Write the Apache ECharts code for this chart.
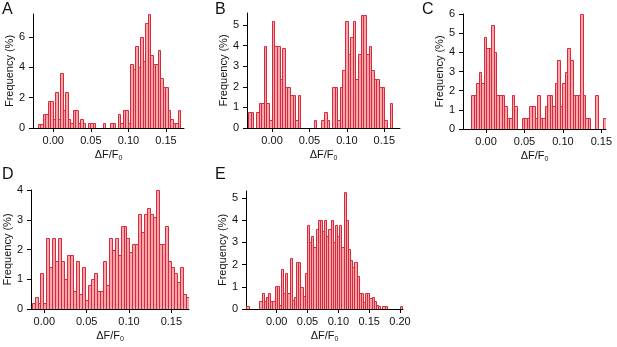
<!DOCTYPE html>
<html>
<head>
<meta charset="utf-8">
<script src="https://cdn.jsdelivr.net/npm/echarts@6/dist/echarts.min.js"></script>
<style>
html,body{margin:0;padding:0;background:#fff}
#chart{width:617px;height:347px}
</style>
</head>
<body>
<div id="chart"></div>
<script>
// histogram bin heights (%), left to right, one array per panel
var heightsA = [0.25,0.25,0.9,0.9,1.8,1.8,0.6,2.4,0.6,3.6, 1.2,2.4,0.6,0.3,1.2,1.2,0.3,0.6,0.3,0,
  0.3,0.3,0.3,0,0,0,0.3,0,0,0.3, 0.3,0,0.9,0.3,1.2,1.2,0.3,4.2,3.9,5.4,
  4.0,6.0,4.4,6.9,7.5,4.8,4.2,4.2,5.1,3.3, 2.7,2.7,1.2,0.6,0.3,0.3,1.2];
var heightsB = [0.8,0.8,0,0.8,1.2,1.2,4.0,1.2,0.4,5.2, 4.0,4.0,2.4,3.9,2.0,2.0,1.6,1.6,0.4,1.6,
  0,0,0,0,0,0.4,0,0,0.4,0.8, 0.4,0,2.0,2.0,0.4,2.0,2.8,5.2,3.6,4.4,
  5.2,2.4,3.6,5.5,5.5,3.6,4.0,2.8,2.4,2.4, 2.0,2.0,0.4,0,1.2];
var heightsC = [1.8,1.8,2.4,3.0,2.4,4.8,4.2,4.2,5.4,4.0, 1.8,1.8,1.8,1.2,0.6,0.6,1.8,1.2,0,0,
  0.6,0.6,0.6,1.2,1.2,0.6,1.8,0.6,0.6,1.2, 1.8,1.8,1.2,2.4,3.6,1.2,2.4,3.0,4.2,3.6,
  1.8,1.8,1.8,6.0,1.8,0.6,0.6,0,0,1.8, 0,0,0.6];
var heightsD = [0.2,0.4,0.2,1.2,0.2,2.4,1.4,2.4,1.6,2.4, 1.6,1.0,1.8,1.8,0.6,1.6,0.5,1.4,0.3,0.8,
  1.0,1.2,0.6,0.6,1.6,0.8,2.4,2.0,2.4,1.8, 2.8,2.8,2.4,1.9,2.2,2.2,3.2,2.6,3.2,3.4,
  3.2,3.1,4.0,2.2,2.2,2.8,1.6,1.4,1.2,0.9, 1.4,0.5,0.4];
var heightsE = [0.15,0,0,0,0,0,0.35,0.7,0.35,0.55, 0.7,0.35,0.35,1.05,1.05,0.2,1.8,0.7,1.6,0.7,
  2.3,0.4,0.55,2.1,2.1,1.0,0.6,1.6,3.8,3.0, 3.3,2.8,3.6,4.0,4.0,3.5,4.0,3.3,3.6,4.0,
  3.0,3.8,3.3,3.8,2.8,5.25,4.0,2.7,2.2,1.9, 2.1,1.5,0.7,0.7,0.3,0.7,0.7,0.5,0.55,0.35,
  0.2,0.15,0,0.15,0.15,0,0,0,0,0, 0,0.15];

// first bin edge and bin width (ΔF/F0)
var binStart = [-0.0205, -0.032, -0.0195, -0.015, -0.049];
var binWidth = [0.00333, 0.0035, 0.0033, 0.0035, 0.0035];

var xTicks = [0, 0.05, 0.10, 0.15];
var xTicksE = [0, 0.05, 0.10, 0.15, 0.20];
var yTicksA = [0, 2, 4, 6];
var yTicksB = [0, 1, 2, 3, 4, 5];
var yTicksC = [0, 1, 2, 3, 4, 5, 6];
var yTicksD = [0, 1, 2, 3, 4];
var yTicksE = [0, 1, 2, 3, 4, 5];
var letters = ['A', 'B', 'C', 'D', 'E'];

var panels = [
  {h: heightsA, grid: {left: 33, top: 14, width: 151, height: 114}, x: [-0.027, 0.174], yMax: 7.5, xt: xTicks, yt: yTicksA, lp: [2, 2]},
  {h: heightsB, grid: {left: 247, top: 13, width: 153, height: 115}, x: [-0.0335, 0.171], yMax: 5.58, xt: xTicks, yt: yTicksB, lp: [215, 2]},
  {h: heightsC, grid: {left: 463, top: 14, width: 143, height: 115}, x: [-0.030, 0.156], yMax: 6, xt: xTicks, yt: yTicksC, lp: [422, 2]},
  {h: heightsD, grid: {left: 31, top: 190, width: 158, height: 119}, x: [-0.0157, 0.1708], yMax: 4, xt: xTicks, yt: yTicksD, lp: [2, 167]},
  {h: heightsE, grid: {left: 246, top: 191, width: 157, height: 118}, x: [-0.0498, 0.2049], yMax: 5.31, xt: xTicksE, yt: yTicksE, lp: [215, 167]}
];

var FONT = 'Liberation Sans, Arial, sans-serif';
var FILL = '#f6a6ac', EDGE = '#d92a3a';

function renderBin(params, api) {
  var h = api.value(2);
  if (!h) return null;
  var p0 = api.coord([api.value(0), h]);
  var p1 = api.coord([api.value(1), 0]);
  var x0 = Math.round(p0[0]) + 0.5, x1 = Math.round(p1[0]) + 0.5;
  var y0 = Math.round(p0[1]) + 0.5, y1 = Math.round(p1[1]) + 0.5;
  return {
    type: 'rect',
    shape: {x: x0, y: y0, width: x1 - x0, height: y1 - y0},
    style: {fill: FILL, stroke: EDGE, lineWidth: 1}
  };
}

var option = {
  animation: false,
  backgroundColor: '#fff',
  title: [], grid: [], xAxis: [], yAxis: [], series: []
};

panels.forEach(function (p, i) {
  var data = p.h.map(function (v, k) {
    var a = binStart[i] + k * binWidth[i];
    return [a, a + binWidth[i], v];
  });
  option.title.push({
    text: letters[i], left: p.lp[0], top: p.lp[1], padding: 0,
    textStyle: {fontFamily: FONT, fontSize: 16, fontWeight: 'normal', color: '#111'}
  });
  option.grid.push(Object.assign({containLabel: false}, p.grid));
  option.xAxis.push({
    type: 'value', gridIndex: i, min: p.x[0], max: p.x[1],
    name: '{a|ΔF/F}{s|0}', nameLocation: 'middle', nameGap: 20,
    nameTextStyle: {
      color: '#111',
      rich: {
        a: {fontFamily: FONT, fontSize: 11, lineHeight: 14, color: '#111'},
        s: {fontFamily: FONT, fontSize: 7, lineHeight: 7, verticalAlign: 'bottom', color: '#111'}
      }
    },
    axisLine: {show: true, onZero: false, lineStyle: {color: '#000', width: 1}},
    axisTick: {show: true, inside: false, length: 4, customValues: p.xt, lineStyle: {color: '#000'}},
    axisLabel: {
      customValues: p.xt, margin: 7, color: '#111', fontFamily: FONT, fontSize: 11,
      formatter: function (v) { return v.toFixed(2); }
    },
    splitLine: {show: false}
  });
  option.yAxis.push({
    type: 'value', gridIndex: i, min: 0, max: p.yMax,
    name: 'Frequency (%)', nameLocation: 'middle', nameRotate: 90, nameGap: 18,
    nameTextStyle: {fontFamily: FONT, fontSize: 11, color: '#111'},
    axisLine: {show: true, onZero: false, lineStyle: {color: '#000', width: 1}},
    axisTick: {show: true, inside: false, length: 4, customValues: p.yt, lineStyle: {color: '#000'}},
    axisLabel: {customValues: p.yt, margin: 8, color: '#111', fontFamily: FONT, fontSize: 11},
    splitLine: {show: false}
  });
  option.series.push({
    type: 'custom', xAxisIndex: i, yAxisIndex: i,
    renderItem: renderBin, clip: true,
    encode: {x: [0, 1], y: 2},
    data: data
  });
});

var chart = echarts.init(document.getElementById('chart'), null, {renderer: 'canvas'});
chart.setOption(option);
</script>
</body>
</html>
